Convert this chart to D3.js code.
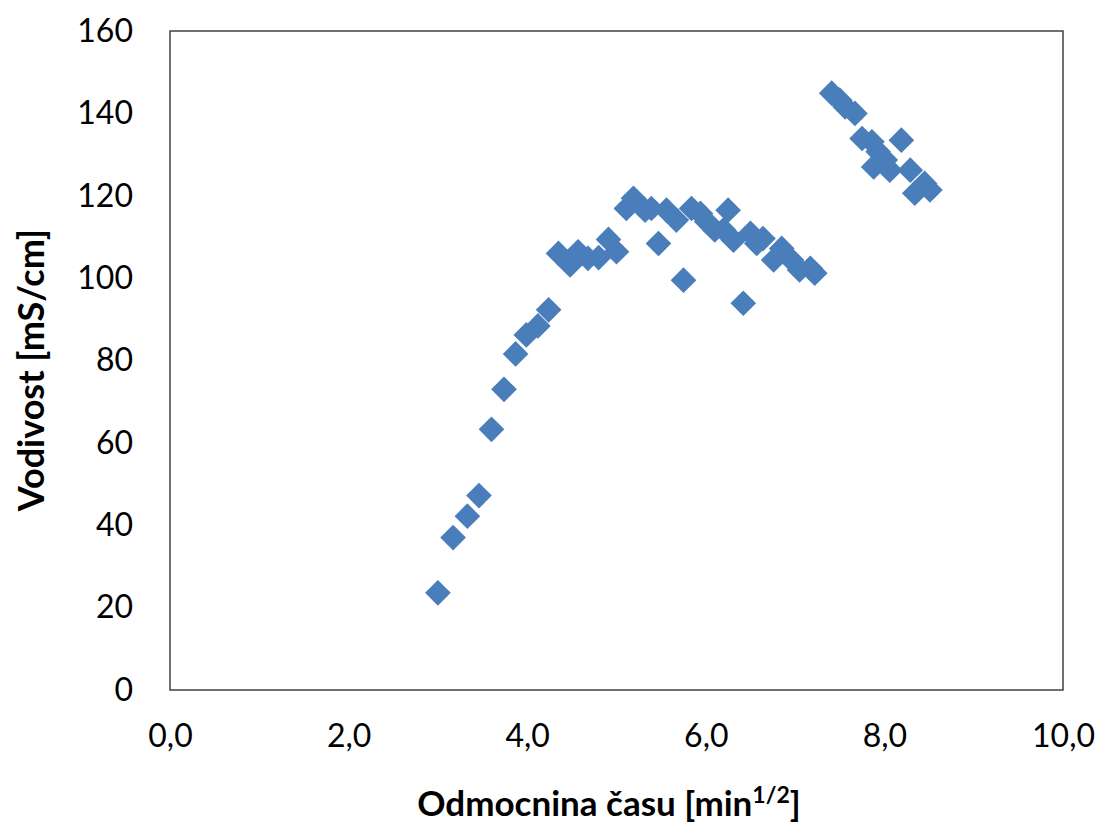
<!DOCTYPE html>
<html>
<head>
<meta charset="utf-8">
<script src="https://cdn.jsdelivr.net/npm/d3@7"></script>
<style>
  html, body { margin: 0; padding: 0; background: #ffffff; }
  svg text { font-family: Lato, "Open Sans", sans-serif; fill: #000; }
</style>
</head>
<body>
<svg id="chart" width="1101" height="825"></svg>
<script>
// Square root of time [min^1/2]
const sqrtTime = [
  3.00, 3.17, 3.33, 3.46, 3.60, 3.74, 3.87, 3.99, 4.12, 4.24,
  4.35, 4.48, 4.57, 4.68, 4.80, 4.91, 5.00,
  5.11, 5.19, 5.32, 5.39, 5.47, 5.56, 5.67, 5.75, 5.84, 5.94, 6.01, 6.10,
  6.20, 6.25, 6.31, 6.42, 6.50, 6.57, 6.64, 6.76, 6.85, 6.96, 7.05, 7.17, 7.22,
  7.41, 7.50, 7.56, 7.67, 7.75, 7.86, 7.93, 7.88, 8.01, 8.06, 8.19, 8.29, 8.34, 8.45, 8.51
];
// Conductivity [mS/cm]
const conductivity = [
  23.6, 37.0, 42.2, 47.2, 63.3, 73.0, 81.6, 86.2, 88.4, 92.3,
  106.0, 103.2, 106.4, 104.8, 105.0, 109.4, 106.4,
  116.9, 119.4, 116.5, 116.9, 108.4, 116.5, 114.1, 99.5, 116.9, 115.7, 113.7, 111.7,
  111.7, 116.5, 109.2, 93.9, 110.9, 108.4, 109.6, 104.4, 107.2, 104.4, 102.0, 102.4, 101.2,
  144.9, 143.2, 141.6, 140.0, 133.9, 133.1, 130.7, 127.0, 128.7, 126.2, 133.5, 126.2, 120.6, 123.0, 121.4
];
const xTicks = [0, 2, 4, 6, 8, 10];
const yTicks = [0, 20, 40, 60, 80, 100, 120, 140, 160];

const svg = d3.select("#chart");
const plotL = 170, plotR = 1063, plotT = 31, plotB = 690;

const x = d3.scaleLinear().domain([0, 10]).range([plotL, plotR]);
const y = d3.scaleLinear().domain([0, 160]).range([plotB, plotT]);

// plot frame
svg.append("rect")
  .attr("x", plotL).attr("y", plotT)
  .attr("width", plotR - plotL).attr("height", plotB - plotT)
  .attr("fill", "none").attr("stroke", "#404040").attr("stroke-width", 1.5);

const fmt = d => d.toFixed(1).replace(".", ",");

// y axis labels
const yAxis = d3.axisLeft(y).tickValues(yTicks).tickSize(0).tickPadding(37).tickFormat(d3.format("d"));
const gy = svg.append("g").attr("transform", `translate(${plotL},0)`).call(yAxis);
gy.select(".domain").remove();
gy.selectAll("text").style("font-size", "32px").style("font-family", "Lato, 'Open Sans', sans-serif").attr("fill", "#000");

// x axis labels
const xAxis = d3.axisBottom(x).tickValues(xTicks).tickSize(0).tickPadding(34).tickFormat(fmt);
const gx = svg.append("g").attr("transform", `translate(0,${plotB})`).call(xAxis);
gx.select(".domain").remove();
gx.selectAll("text").style("font-size", "32px").style("font-family", "Lato, 'Open Sans', sans-serif").attr("fill", "#000");

// axis titles
svg.append("text")
  .attr("transform", "translate(44,370) rotate(-90)")
  .attr("text-anchor", "middle")
  .style("font-size", "36px").style("font-weight", "bold")
  .text("Vodivost [mS/cm]");

const xt = svg.append("text")
  .attr("x", 609).attr("y", 816)
  .attr("text-anchor", "middle")
  .style("font-size", "35px").style("font-weight", "bold");
xt.append("tspan").text("Odmocnina času [min");
xt.append("tspan").attr("dy", -13).style("font-size", "23px").text("1/2");
xt.append("tspan").attr("dy", 13).text("]");

// data markers: diamonds
const points = sqrtTime.map((t, i) => ({ t, c: conductivity[i] }));
const diamond = d3.symbol().type(d3.symbolSquare).size(330);
svg.append("g")
  .selectAll("path")
  .data(points)
  .join("path")
  .attr("d", diamond)
  .attr("transform", d => `translate(${x(d.t)},${y(d.c)}) rotate(45)`)
  .attr("fill", "#4A7EBB");
</script>
</body>
</html>
